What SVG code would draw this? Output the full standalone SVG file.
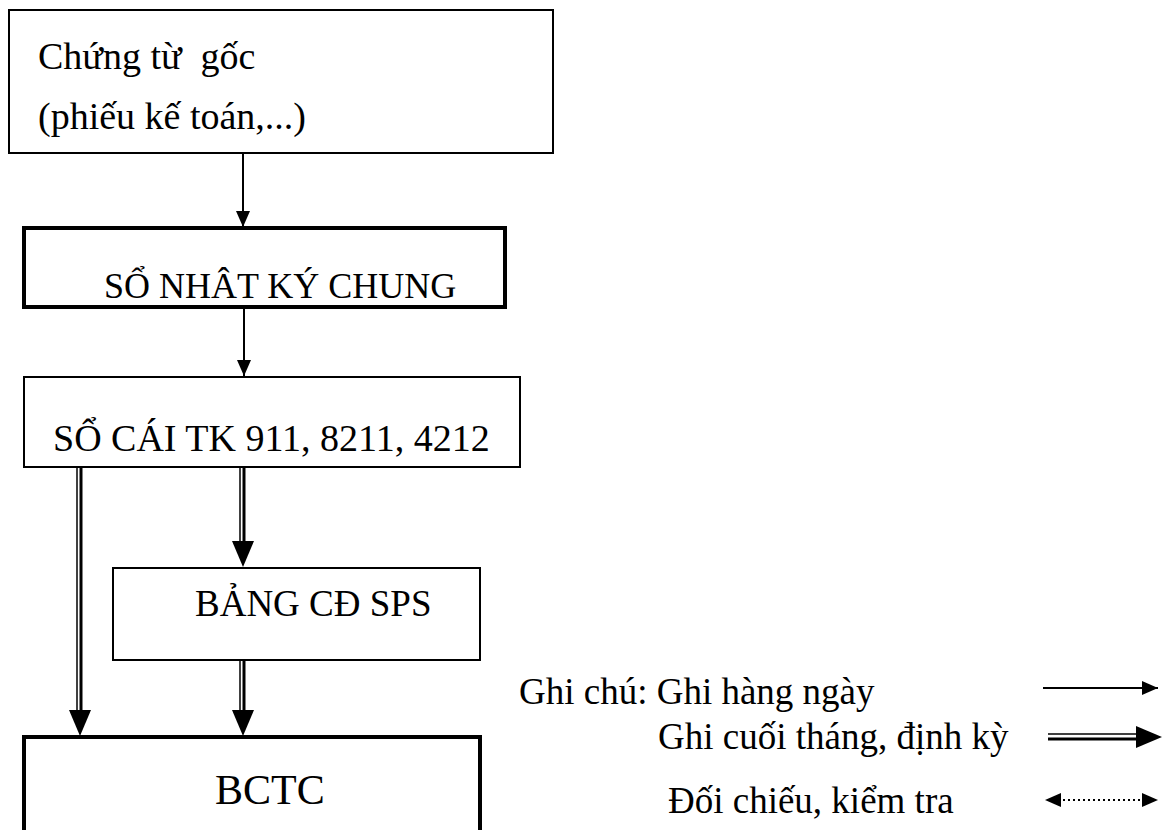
<svg xmlns="http://www.w3.org/2000/svg" width="1174" height="830" viewBox="0 0 1174 830">
  <style>
    .box { fill: #fff; stroke: #000; stroke-width: 2; }
    .box-thick { fill: #fff; stroke: #000; stroke-width: 4; }
    .t { font-family: "Liberation Serif", "Times New Roman", serif; font-size: 37px; fill: #000; white-space: pre; }
    .md { font-size: 36px; }
    .lg { font-size: 38px; }
    .big { font-size: 42px; }
    .ln { stroke: #000; stroke-width: 2; fill: none; }
    .thin { stroke: #000; stroke-width: 1.5; fill: none; }
    .thick { stroke: #000; stroke-width: 3; fill: none; }
    .dot { stroke: #000; stroke-width: 2; stroke-dasharray: 2 3; fill: none; }
  </style>
  <defs>
    <marker id="head" markerUnits="userSpaceOnUse" markerWidth="16" markerHeight="16" viewBox="0 0 16 16" refX="16" refY="8" orient="auto">
      <path d="M0,1 L16,8 L0,15 Z" fill="#000"/>
    </marker>
    <marker id="head-big" markerUnits="userSpaceOnUse" markerWidth="26" markerHeight="24" viewBox="0 0 26 24" refX="26" refY="12" orient="auto">
      <path d="M0,1 L26,12 L0,23 Z" fill="#000"/>
    </marker>
  </defs>

  <!-- nodes -->
  <g id="chung-tu-goc">
    <rect class="box" x="9" y="10" width="544" height="143"/>
    <text class="t lg" x="38" y="69" xml:space="preserve">Chứng từ  gốc</text>
    <text class="t lg" x="38" y="129">(phiếu kế toán,...)</text>
  </g>
  <g id="so-nhat-ky-chung">
    <rect class="box-thick" x="24" y="228" width="481" height="79"/>
    <text class="t md" x="104" y="298">SỔ NHÂT KÝ CHUNG</text>
  </g>
  <g id="so-cai">
    <rect class="box" x="24" y="377" width="496" height="90"/>
    <text class="t lg" x="53" y="451">SỔ CÁI TK 911, 8211, 4212</text>
  </g>
  <g id="bang-cd-sps">
    <rect class="box" x="113" y="568" width="367" height="92"/>
    <text class="t" x="195" y="616">BẢNG CĐ SPS</text>
  </g>
  <g id="bctc">
    <rect class="box-thick" x="24" y="737" width="456" height="110"/>
    <text class="t big" x="215" y="804">BCTC</text>
  </g>

  <!-- connectors -->
  <g id="connectors">
    <line class="ln" x1="243" y1="153" x2="243" y2="227" marker-end="url(#head)"/>
    <line class="ln" x1="244" y1="307" x2="244" y2="376" marker-end="url(#head)"/>
    <!-- periodic postings: thin-thick double line -->
    <line class="thin" x1="77" y1="467" x2="77" y2="716"/>
    <line class="thick" x1="81" y1="467" x2="81" y2="716"/>
    <line x1="80" y1="710" x2="80" y2="736" stroke="none" marker-end="url(#head-big)"/>
    <line class="thin" x1="240" y1="467" x2="240" y2="548"/>
    <line class="thick" x1="244" y1="467" x2="244" y2="548"/>
    <line x1="243" y1="540" x2="243" y2="567" stroke="none" marker-end="url(#head-big)"/>
    <line class="thin" x1="240" y1="660" x2="240" y2="716"/>
    <line class="thick" x1="244" y1="660" x2="244" y2="716"/>
    <line x1="243" y1="710" x2="243" y2="736" stroke="none" marker-end="url(#head-big)"/>
  </g>

  <!-- legend -->
  <g id="legend">
    <text class="t" x="519" y="704">Ghi chú: Ghi hàng ngày</text>
    <text class="t" x="658" y="749">Ghi cuối tháng, định kỳ</text>
    <text class="t" x="668" y="813">Đối chiếu, kiểm tra</text>
    <line class="ln" x1="1043" y1="688" x2="1158" y2="688" marker-end="url(#head)"/>
    <line class="thin" x1="1048" y1="734" x2="1138" y2="734"/>
    <line class="thick" x1="1048" y1="739" x2="1138" y2="739"/>
    <line x1="1130" y1="737" x2="1162" y2="737" stroke="none" marker-end="url(#head-big)"/>
    <line class="dot" x1="1058" y1="800" x2="1146" y2="800"/>
    <line x1="1060" y1="800" x2="1045" y2="800" stroke="none" marker-end="url(#head)"/>
    <line x1="1140" y1="800" x2="1158" y2="800" stroke="none" marker-end="url(#head)"/>
  </g>
</svg>
